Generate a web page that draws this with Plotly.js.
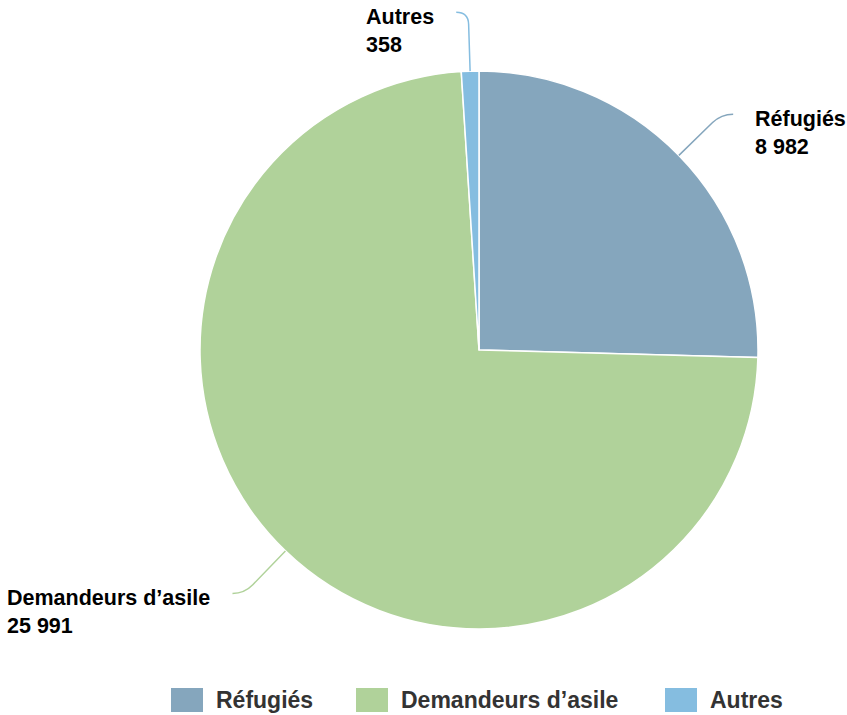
<!DOCTYPE html>
<html><head><meta charset="utf-8">
<script src="https://cdn.plot.ly/plotly-3.0.1.min.js"></script>
<style>html,body{margin:0;padding:0;background:#fff}#chart{width:847px;height:715px}</style>
</head><body><div id="chart"></div>
<script>
const categories = ['Réfugiés', 'Demandeurs d’asile', 'Autres'];
const values = [8982, 25991, 358];
const valueLabels = ['8 982', '25 991', '358'];
const colors = ['#85A6BD', '#B0D29A', '#85BDE0'];

const W = 847, H = 715;
const cx = 479, cy = 350, r = 279;
const px = x => x / W, py = y => 1 - y / H;
const FONT = 'Liberation Sans, Arial, sans-serif';

const total = values.reduce((a, b) => a + b, 0);
let acc = 0;
const shapes = [], annotations = [];
values.forEach((v, i) => {
  const mid = (acc + v / 2) / total * 2 * Math.PI; acc += v;
  const s = Math.sin(mid), c = Math.cos(mid);
  const dir = s >= 0 ? 1 : -1;
  const p0 = [cx + r * s, cy - r * c];
  const kr = r + 59;
  const k = [cx + kr * s, cy - kr * c];
  const b = [cx + (kr - 12) * s, cy - (kr - 12) * c];
  const e = [k[0] + dir * 12, k[1]];
  shapes.push({type: 'path', xref: 'paper', yref: 'paper',
    path: `M${px(p0[0])},${py(p0[1])} L${px(b[0])},${py(b[1])} Q${px(k[0])},${py(k[1])} ${px(e[0])},${py(e[1])}`,
    line: {color: colors[i], width: 1.5}});
  annotations.push({xref: 'paper', yref: 'paper', x: px(e[0] + dir * 20), y: py(e[1] + 18.5),
    xanchor: dir > 0 ? 'left' : 'right', yanchor: 'middle', align: 'left', showarrow: false,
    text: `<b>${categories[i]}</b><br><b>${valueLabels[i]}</b>`,
    font: {family: FONT, size: 21.5, color: '#000'}});
});

// custom legend
const legendLefts = [171, 356, 665];
categories.forEach((name, i) => {
  const x0 = legendLefts[i];
  shapes.push({type: 'rect', xref: 'paper', yref: 'paper', x0: px(x0), x1: px(x0 + 32), y0: py(712), y1: py(688),
    fillcolor: colors[i], line: {width: 0}});
  annotations.push({xref: 'paper', yref: 'paper', x: px(x0 + 43), y: py(700), xanchor: 'left', yanchor: 'middle',
    showarrow: false, text: `<b>${name}</b>`, font: {family: FONT, size: 23, color: '#333333'}});
});

const data = [{
  type: 'pie', labels: categories, values: values, sort: false, direction: 'clockwise', rotation: 0,
  marker: {colors: colors, line: {color: '#ffffff', width: 1.5}},
  textinfo: 'none', hoverinfo: 'label+value',
  domain: {x: [px(cx - r), px(cx + r)], y: [py(cy + r), py(cy - r)]}
}];
const layout = {
  width: W, height: H, margin: {l: 0, r: 0, t: 0, b: 0},
  paper_bgcolor: '#fff', showlegend: false,
  font: {family: FONT},
  shapes: shapes, annotations: annotations
};
Plotly.newPlot('chart', data, layout, {displayModeBar: false, staticPlot: true});
</script></body></html>
